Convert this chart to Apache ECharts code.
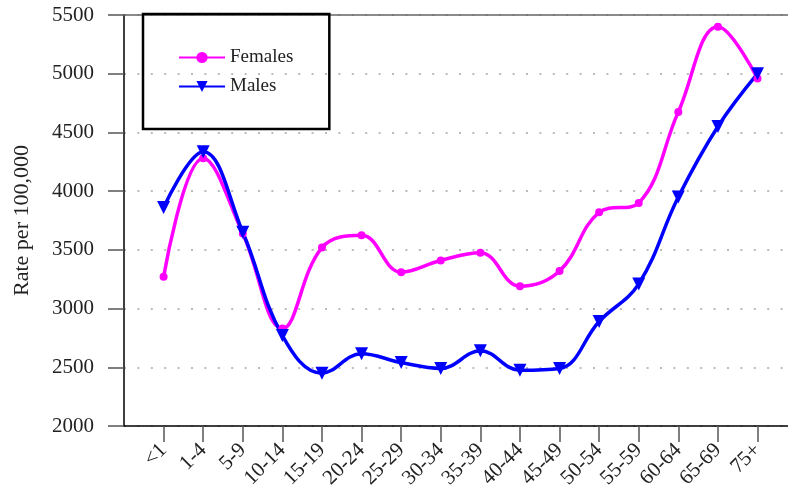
<!DOCTYPE html>
<html><head><meta charset="utf-8">
<script src="https://cdn.jsdelivr.net/npm/echarts@6/dist/echarts.min.js"></script>
<style>html,body{margin:0;padding:0;background:#fff}#c{width:788px;height:498px}</style>
</head><body><div id="c"></div>
<script>
const categories = ['<1','1-4','5-9','10-14','15-19','20-24','25-29','30-34','35-39','40-44','45-49','50-54','55-59','60-64','65-69','75+'];
const females = [3270,4280,3640,2830,3520,3625,3310,3410,3475,3190,3320,3820,3900,4675,5400,4960];
const males = [3860,4335,3650,2770,2450,2615,2540,2490,2640,2475,2490,2890,3210,3950,4550,5000];
const yTicks = [2000,2500,3000,3500,4000,4500,5000,5500];

const font = '"Liberation Serif", "DejaVu Serif", serif';
const idx = categories.map((_, i) => i);
const chart = echarts.init(document.getElementById('c'));
chart.setOption({
  animation: false,
  backgroundColor: '#fff',
  grid: { left: 124, top: 15, right: 0, bottom: 72, containLabel: false, outerBoundsMode: 'none' },
  legend: {
    orient: 'vertical', left: 143, top: 14,
    padding: [34, 36, 33, 35],
    borderColor: '#000', borderWidth: 2.5,
    itemWidth: 46, itemHeight: 14, itemGap: 10,
    textStyle: { fontFamily: font, fontSize: 19, color: '#222' },
    data: ['Females', 'Males']
  },
  xAxis: [{
    type: 'value', min: -1, max: 15.77,
    axisLine: { show: true, onZero: false, lineStyle: { color: '#000', width: 1.5 } },
    axisTick: { show: true, length: 16, customValues: idx, lineStyle: { color: '#555', width: 1.5 } },
    axisLabel: {
      customValues: idx, rotate: 45, margin: 21,
      fontFamily: font, fontSize: 21, color: '#222',
      formatter: v => categories[Math.round(v)]
    },
    splitLine: { show: false }
  }, {
    type: 'value', min: -1, max: 15.77, position: 'top',
    axisLine: { show: true, onZero: false, lineStyle: { color: '#666', width: 1.5 } },
    axisTick: { show: false }, axisLabel: { show: false }, splitLine: { show: false }
  }],
  yAxis: {
    type: 'value', min: yTicks[0], max: yTicks[yTicks.length - 1], interval: 500,
    name: 'Rate per 100,000', nameLocation: 'middle', nameGap: 91,
    nameTextStyle: { fontFamily: font, fontSize: 22, color: '#222' },
    axisLine: { show: true, onZero: false, lineStyle: { color: '#000', width: 1.5 } },
    axisTick: { show: true, length: 16, lineStyle: { color: '#555', width: 1.5 } },
    axisLabel: { margin: 30, fontFamily: font, fontSize: 21, color: '#222', formatter: v => String(v) },
    splitLine: { show: true, lineStyle: { color: '#bbb', width: 2, type: [2, 11.4] } }
  },
  series: [{
    name: 'Females', type: 'line', smooth: 0.4,
    data: females.map((v, i) => [i, v]),
    symbol: 'circle', symbolSize: 8,
    itemStyle: { color: '#ff00ff' },
    lineStyle: { color: '#ff00ff', width: 3.5 }
  }, {
    name: 'Males', type: 'line', smooth: 0.4,
    data: males.map((v, i) => [i, v]),
    symbol: 'triangle', symbolSize: 13, symbolRotate: 180,
    itemStyle: { color: '#0000ff' },
    lineStyle: { color: '#0000ff', width: 3.5 }
  }]
});
</script></body></html>
